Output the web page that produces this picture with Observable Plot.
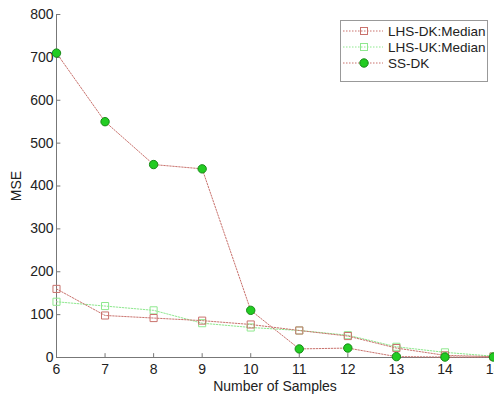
<!DOCTYPE html>
<html><head><meta charset="utf-8">
<script src="https://cdn.jsdelivr.net/npm/d3@7"></script>
<script src="https://cdn.jsdelivr.net/npm/@observablehq/plot@0.6"></script>
<style>
body{margin:0;background:#fff;font-family:"Liberation Sans",Arial,sans-serif;}
#wrap{position:relative;width:494px;height:396px;overflow:hidden;}
#chart svg text{font-size:14px;font-family:"Liberation Sans",Arial,sans-serif;fill:#222;}
#legend{position:absolute;left:340px;top:20px;width:148px;height:62px;border:1px solid #999;background:#fff;box-sizing:border-box;font-size:13.5px;color:#222;white-space:nowrap;}
#legend .row{position:absolute;left:2px;height:16px;display:flex;align-items:center;white-space:nowrap;}
#legend svg{margin-right:5px;flex:none;}
</style>
</head><body>
<div id="wrap"><div id="chart"></div><div id="legend"></div></div>
<script>
const samples = [6, 7, 8, 9, 10, 11, 12, 13, 14, 15];
const lhsDK = [160, 98, 92, 86, 77, 63, 50, 22, 5, 2];
const lhsUK = [130, 120, 110, 80, 70, 63, 52, 25, 12, 3];
const ssDK = [710, 550, 450, 440, 110, 20, 22, 2, 1, 1];
const xTicks = [6, 7, 8, 9, 10, 11, 12, 13, 14, 15];
const yTicks = [0, 100, 200, 300, 400, 500, 600, 700, 800];
const seriesNames = ["LHS-DK:Median", "LHS-UK:Median", "SS-DK"];

const cDK = "#c9726d";
const cUK = "#8fe88f";
const cSS = "#c9726d";
const dotFill = "#22cc22";
const dotStroke = "#178a17";

const mk = (vals) => samples.map((x, i) => ({x, y: vals[i]}));
const dDK = mk(lhsDK), dUK = mk(lhsUK), dSS = mk(ssDK);

const chart = Plot.plot({
  width: 494, height: 396,
  marginLeft: 56, marginRight: 1, marginTop: 14, marginBottom: 39,
  style: {fontFamily: "Liberation Sans, Arial, sans-serif", fontSize: "14px", color: "#222", overflow: "visible"},
  x: {domain: [6, 15]},
  y: {domain: [0, 800]},
  marks: [
    Plot.ruleX([6], {stroke: "#777"}),
    Plot.ruleY([0], {stroke: "#777"}),
    Plot.ruleX(xTicks, {x: d => d, y1: 0, y2: 9, stroke: "#777"}),
    Plot.ruleY(yTicks, {y: d => d, x1: 6, x2: 6.09, stroke: "#777"}),
    Plot.axisX({ticks: xTicks, tickSize: 0, tickPadding: 7, tickFormat: d => d, label: "Number of Samples", labelAnchor: "center", labelOffset: 33, labelArrow: "none"}),
    Plot.axisY({ticks: yTicks, tickSize: 0, tickPadding: 3, label: "MSE", labelAnchor: "center", labelOffset: 45, labelArrow: "none"}),
    Plot.line(dUK, {x: "x", y: "y", stroke: cUK, strokeWidth: 1, strokeDasharray: "1.5,1.5"}),
    Plot.line(dDK, {x: "x", y: "y", stroke: cDK, strokeWidth: 1, strokeDasharray: "1.5,1.5"}),
    Plot.line(dSS, {x: "x", y: "y", stroke: cSS, strokeWidth: 1, strokeDasharray: "1.5,1.5"}),
    Plot.dot(dUK, {x: "x", y: "y", symbol: "square", r: 4, stroke: cUK, fill: "none", strokeWidth: 1}),
    Plot.dot(dDK, {x: "x", y: "y", symbol: "square", r: 4, stroke: cDK, fill: "none", strokeWidth: 1}),
    Plot.dot(dSS, {x: "x", y: "y", r: 4.2, fill: dotFill, stroke: dotStroke, strokeWidth: 1})
  ]
});
document.getElementById("chart").appendChild(chart);

const leg = document.getElementById("legend");
const styles = [
  {stroke: cDK, sym: "sq"},
  {stroke: cUK, sym: "sq"},
  {stroke: cSS, sym: "dot"}
];
seriesNames.forEach((name, i) => {
  const s = styles[i];
  const row = document.createElement("div");
  row.className = "row";
  row.style.top = (2 + i * 16) + "px";
  const marker = s.sym === "sq"
    ? `<rect x="17.5" y="4.5" width="7" height="7" fill="none" stroke="${s.stroke}"/>`
    : `<circle cx="21" cy="8" r="4.2" fill="${dotFill}" stroke="${dotStroke}"/>`;
  row.innerHTML = `<svg width="40" height="16"><line x1="0" y1="8" x2="40" y2="8" stroke="${s.stroke}" stroke-dasharray="1.5,1.5"/>${marker}</svg><span>${name}</span>`;
  leg.appendChild(row);
});
</script>
</body></html>
